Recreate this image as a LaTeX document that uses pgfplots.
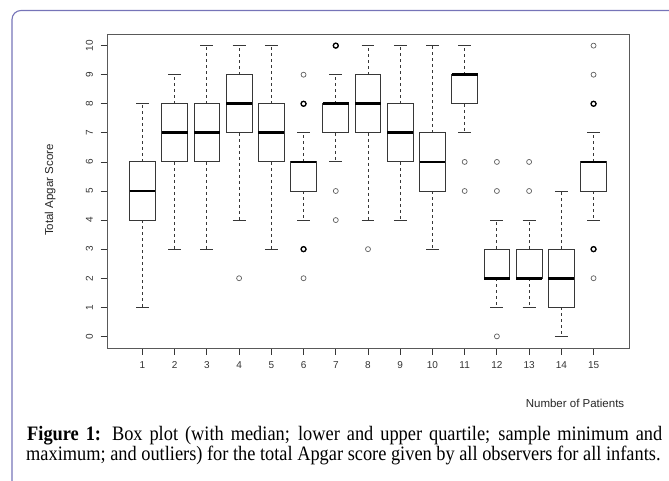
\documentclass[border=0pt]{standalone}
\usepackage{fontspec}
\setmainfont{Liberation Serif}
\newfontfamily\arial{Liberation Sans}
\usepackage{pgfplots}
\usepgfplotslibrary{statistics}
\pgfplotsset{compat=1.18}
\definecolor{framecol}{RGB}{118,116,184}
\definecolor{boxcol}{RGB}{55,55,55}
\definecolor{outcol}{RGB}{95,95,95}

\pgfplotsset{
  rbox/.style={
    boxplot/draw direction=y,
    draw=boxcol, line width=0.9pt, solid,
    mark=o, mark size=2.5pt,
    mark options={draw=outcol, line width=0.7pt, solid},
    boxplot/box extend=0.8,
    boxplot/whisker extend=0.4,
    boxplot/every median/.style={line width=2.8pt, draw=black},
    boxplot/draw/lower whisker/.code={
      \draw[dash pattern=on 3pt off 3pt, line width=0.8pt, draw=boxcol]
        (boxplot cs:\pgfplotsboxplotvalue{lower quartile}) -- (boxplot cs:\pgfplotsboxplotvalue{lower whisker});
      \draw[solid, line width=0.9pt, draw=boxcol]
        (boxplot whisker cs:\pgfplotsboxplotvalue{lower whisker},0) -- (boxplot whisker cs:\pgfplotsboxplotvalue{lower whisker},1);
    },
    boxplot/draw/upper whisker/.code={
      \draw[dash pattern=on 3pt off 3pt, line width=0.8pt, draw=boxcol]
        (boxplot cs:\pgfplotsboxplotvalue{upper quartile}) -- (boxplot cs:\pgfplotsboxplotvalue{upper whisker});
      \draw[solid, line width=0.9pt, draw=boxcol]
        (boxplot whisker cs:\pgfplotsboxplotvalue{upper whisker},0) -- (boxplot whisker cs:\pgfplotsboxplotvalue{upper whisker},1);
    },
  },
}

\begin{document}
\begin{tikzpicture}
\useasboundingbox (0,0) rectangle (669pt,-481pt);
\begin{scope}
  \clip (0,0) rectangle (669pt,-481pt);
  \draw[framecol, line width=1.1pt, rounded corners=9pt] (12pt,-10.5pt) rectangle (720pt,-540pt);
\end{scope}

\begin{axis}[
  at={(107pt,-348pt)}, anchor=south west,
  scale only axis, width=522pt, height=314pt,
  xmin=-0.1, xmax=16.1, ymin=-0.4, ymax=10.4,
  xtick={1,...,15}, ytick={0,...,10},
  tick align=outside, xtick pos=left, ytick pos=left,
  major tick length=6.5pt,
  tick style={draw=boxcol, line width=0.8pt},
  axis line style={draw=black!65, line width=0.9pt},
  /pgf/number format/assume math mode=true,
  ticklabel style={font=\arial\fontsize{10}{11}\selectfont, text=black!80},
  yticklabel style={xshift=-4pt, rotate=90, anchor=south},
  xticklabel style={yshift=-3.5pt},
  xlabel={Number of Patients}, ylabel={Total Apgar Score},
  label style={font=\arial\fontsize{11.5}{13}\selectfont, text=black!85},
  xlabel style={at={(axis description cs:0.8966,-0.175)}, anchor=center},
  ylabel style={at={(axis description cs:-0.109,0.503)}, anchor=center},
]
% patient 1
\addplot[rbox, boxplot prepared={lower whisker=1, lower quartile=4, median=5, upper quartile=6, upper whisker=8, draw position=1}] coordinates {};
% patient 2
\addplot[rbox, boxplot prepared={lower whisker=3, lower quartile=6, median=7, upper quartile=8, upper whisker=9, draw position=2}] coordinates {};
% patient 3
\addplot[rbox, boxplot prepared={lower whisker=3, lower quartile=6, median=7, upper quartile=8, upper whisker=10, draw position=3}] coordinates {};
% patient 4
\addplot[rbox, boxplot prepared={lower whisker=4, lower quartile=7, median=8, upper quartile=9, upper whisker=10, draw position=4}] coordinates {(4,2)};
% patient 5
\addplot[rbox, boxplot prepared={lower whisker=3, lower quartile=6, median=7, upper quartile=8, upper whisker=10, draw position=5}] coordinates {};
% patient 6
\addplot[rbox, boxplot prepared={lower whisker=4, lower quartile=5, median=6, upper quartile=6, upper whisker=7, draw position=6}] coordinates {(6,9)(6,8)(6,3)(6,2)};
% patient 7
\addplot[rbox, boxplot prepared={lower whisker=6, lower quartile=7, median=8, upper quartile=8, upper whisker=9, draw position=7}] coordinates {(7,10)(7,5)(7,4)};
% patient 8
\addplot[rbox, boxplot prepared={lower whisker=4, lower quartile=7, median=8, upper quartile=9, upper whisker=10, draw position=8}] coordinates {(8,3)};
% patient 9
\addplot[rbox, boxplot prepared={lower whisker=4, lower quartile=6, median=7, upper quartile=8, upper whisker=10, draw position=9}] coordinates {};
% patient 10
\addplot[rbox, boxplot prepared={lower whisker=3, lower quartile=5, median=6, upper quartile=7, upper whisker=10, draw position=10}] coordinates {};
% patient 11
\addplot[rbox, boxplot prepared={lower whisker=7, lower quartile=8, median=9, upper quartile=9, upper whisker=10, draw position=11}] coordinates {(11,6)(11,5)};
% patient 12
\addplot[rbox, boxplot prepared={lower whisker=1, lower quartile=2, median=2, upper quartile=3, upper whisker=4, draw position=12}] coordinates {(12,6)(12,5)(12,0)};
% patient 13
\addplot[rbox, boxplot prepared={lower whisker=1, lower quartile=2, median=2, upper quartile=3, upper whisker=4, draw position=13}] coordinates {(13,6)(13,5)};
% patient 14
\addplot[rbox, boxplot prepared={lower whisker=0, lower quartile=1, median=2, upper quartile=3, upper whisker=5, draw position=14}] coordinates {};
% patient 15
\addplot[rbox, boxplot prepared={lower whisker=4, lower quartile=5, median=6, upper quartile=6, upper whisker=7, draw position=15}] coordinates {(15,10)(15,9)(15,8)(15,3)(15,2)};
% overplotted (repeated) outliers look darker
\addplot[only marks, mark=o, mark size=2.5pt, mark options={draw=black, line width=1.3pt}]
  coordinates {(6,8)(6,3)(7,10)(15,8)(15,3)};
\end{axis}

\node[anchor=base west, inner sep=0pt] at (27pt,-440pt)
  {\fontsize{20.5}{22}\selectfont\scalebox{0.895}[1]{\makebox[709.5pt][s]{\textbf{Figure 1:} Box plot (with median; lower and upper quartile; sample minimum and}}};
\node[anchor=base west, inner sep=0pt] at (26pt,-460pt)
  {\fontsize{20.5}{22}\selectfont\scalebox{0.895}[1]{maximum; and outliers) for the total Apgar score given by all observers for all infants.}};
\end{tikzpicture}
\end{document}
